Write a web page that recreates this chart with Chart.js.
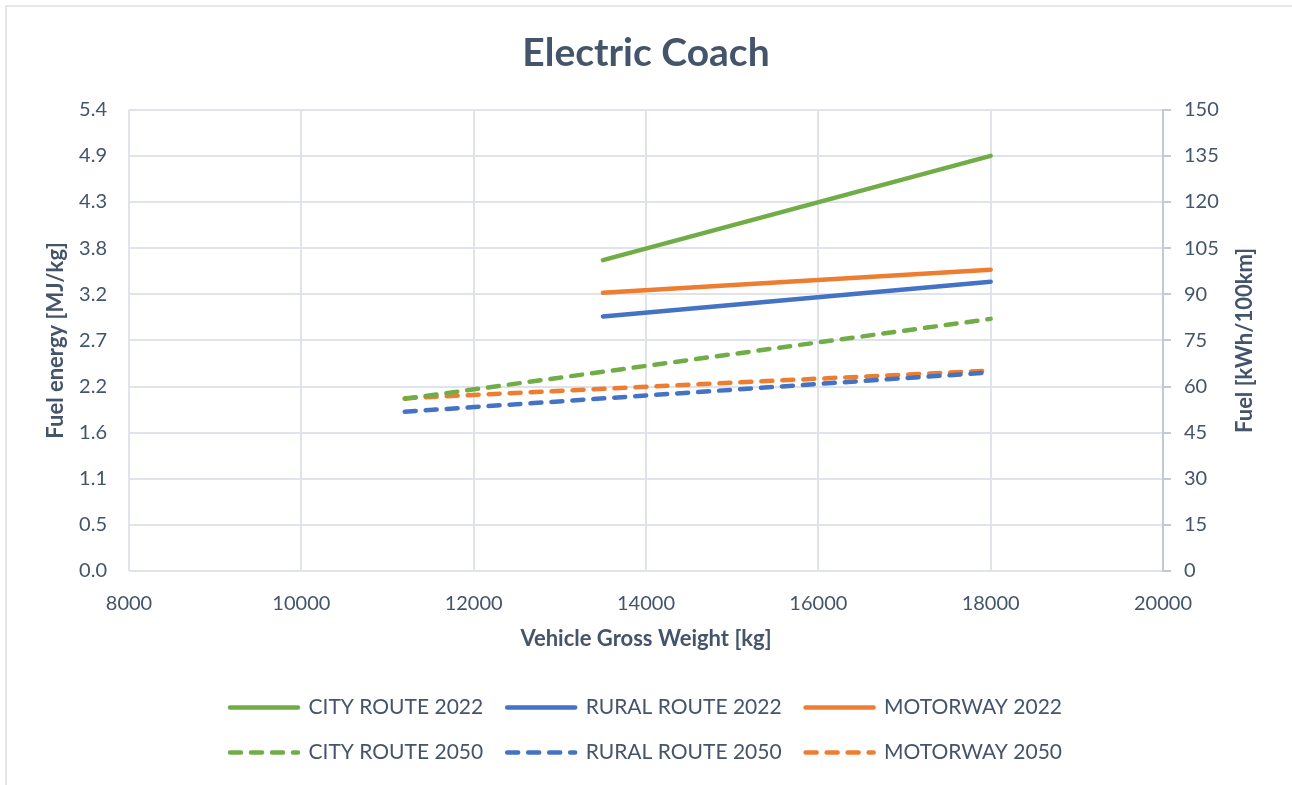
<!DOCTYPE html>
<html>
<head>
<meta charset="utf-8">
<script src="https://cdn.jsdelivr.net/npm/chart.js@4.4.1/dist/chart.umd.min.js"></script>
<style>
  html, body { margin: 0; padding: 0; background: #fff; }
  #wrap { position: relative; width: 1292px; height: 785px; overflow: hidden; }
  #frame { position: absolute; left: 5px; top: 5px; width: 1300px; height: 800px; border: 2px solid #e3e6eb; box-sizing: border-box; }
  canvas { position: absolute; left: 0; top: 0; }
</style>
</head>
<body>
<div id="wrap">
  <div id="frame"></div>
  <canvas id="chart" width="1292" height="785"></canvas>
</div>
<script>
// vehicle gross weight [kg]
const weights2022 = [13500, 18000];
const weights2050 = [11200, 18000];

// fuel [kWh/100km]
const city2022 = [101.1, 135.0];
const rural2022 = [82.8, 94.1];
const motorway2022 = [90.5, 98.0];
const city2050 = [56.0, 82.0];
const rural2050 = [51.8, 64.6];
const motorway2050 = [56.2, 65.2];

const seriesNames = ["CITY ROUTE 2022", "RURAL ROUTE 2022", "MOTORWAY 2022",
                     "CITY ROUTE 2050", "RURAL ROUTE 2050", "MOTORWAY 2050"];

const textColor = "#44546a";
const gridColor = "#e0e3e9";
const axisColor = "#c3cad6";
const green = "#70ad47", blue = "#4472c4", orange = "#ed7d31";

Chart.defaults.font.family = "Lato, 'Open Sans', sans-serif";
Chart.defaults.color = textColor;

function pts(xs, ys) {
  return xs.map((x, i) => ({ x: x, y: ys[i] }));
}

function series(label, xs, ys, color, dashed) {
  return {
    label: label,
    data: pts(xs, ys),
    yAxisID: "y2",
    borderColor: color,
    backgroundColor: color,
    borderWidth: 4.5,
    borderCapStyle: "round",
    borderDash: dashed ? [11, 10] : [],
    pointRadius: 0,
    fill: false,
    tension: 0
  };
}

// right axis title reads bottom-to-top, so draw it here
const rightTitle = {
  id: "rightTitle",
  afterDraw(chart) {
    const s = chart.scales.y2;
    const area = chart.chartArea;
    const ctx = chart.ctx;
    ctx.save();
    ctx.translate(s.right - 47, (area.top + area.bottom) / 2);
    ctx.rotate(-Math.PI / 2);
    ctx.font = "bold 22px Lato, 'Open Sans', sans-serif";
    ctx.fillStyle = textColor;
    ctx.textAlign = "center";
    ctx.textBaseline = "middle";
    ctx.fillText("Fuel [kWh/100km]", 0, 0);
    ctx.restore();
  }
};

new Chart(document.getElementById("chart"), {
  type: "line",
  data: {
    datasets: [
      series(seriesNames[0], weights2022, city2022, green, false),
      series(seriesNames[1], weights2022, rural2022, blue, false),
      series(seriesNames[2], weights2022, motorway2022, orange, false),
      series(seriesNames[3], weights2050, city2050, green, true),
      series(seriesNames[4], weights2050, rural2050, blue, true),
      series(seriesNames[5], weights2050, motorway2050, orange, true)
    ]
  },
  options: {
    responsive: false,
    animation: false,
    layout: { padding: { left: 0, right: 0, top: 0, bottom: 12 } },
    plugins: {
      title: {
        display: true,
        text: "Electric Coach",
        color: textColor,
        font: { size: 39, weight: "bold" },
        padding: { top: 30, bottom: 33 }
      },
      legend: {
        position: "bottom",
        fullSize: false,
        labels: {
          usePointStyle: true,
          pointStyle: "line",
          pointStyleWidth: 68,
          padding: 24,
          color: textColor,
          font: { size: 21 },
          generateLabels(chart) {
            const items = Chart.defaults.plugins.legend.labels.generateLabels(chart);
            items.forEach((it) => {
              const ds = chart.data.datasets[it.datasetIndex];
              it.lineDash = ds.borderDash;
              it.lineCap = "round";
              it.lineWidth = ds.borderWidth;
            });
            return items;
          }
        }
      },
      tooltip: { enabled: false }
    },
    scales: {
      x: {
        type: "linear",
        min: 8000,
        max: 20000,
        afterFit(scale) { scale.height = 102; },
        ticks: {
          stepSize: 2000,
          padding: 21,
          font: { size: 20 },
          callback: (v) => String(v)
        },
        grid: { color: gridColor, lineWidth: 2, drawTicks: false },
        border: { display: false },
        title: {
          display: true,
          text: "Vehicle Gross Weight [kg]",
          color: textColor,
          font: { size: 22, weight: "bold" },
          padding: { top: 0, bottom: 21 }
        }
      },
      y: {
        position: "left",
        min: 0,
        max: 5.4,
        afterFit(scale) { scale.width = 129; },
        ticks: {
          stepSize: 0.54,
          padding: 22,
          font: { size: 20 },
          callback: (v) => Number(v).toFixed(1)
        },
        grid: { color: gridColor, lineWidth: 2, drawTicks: false },
        border: { display: false },
        title: {
          display: true,
          text: "Fuel energy [MJ/kg]",
          color: textColor,
          font: { size: 22, weight: "bold" },
          padding: { top: 43, bottom: 0 }
        }
      },
      y2: {
        position: "right",
        min: 0,
        max: 150,
        afterFit(scale) { scale.width = 129; },
        ticks: {
          stepSize: 15,
          padding: 13,
          font: { size: 20 }
        },
        grid: { drawOnChartArea: false, drawTicks: true, tickLength: 8, color: axisColor, lineWidth: 2 },
        border: { display: true, color: axisColor, width: 2 }
      }
    }
  },
  plugins: [rightTitle]
});
</script>
</body>
</html>
